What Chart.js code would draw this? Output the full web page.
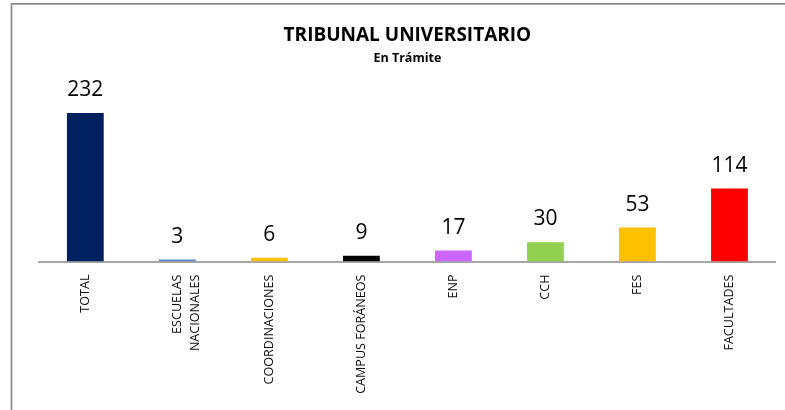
<!DOCTYPE html>
<html>
<head>
<meta charset="utf-8">
<script src="https://cdn.jsdelivr.net/npm/chart.js@4.4.1/dist/chart.umd.min.js"></script>
<style>
  html, body { margin: 0; padding: 0; background: #ffffff; }
  #wrap { width: 785px; height: 410px; position: relative; }
</style>
</head>
<body>
<div id="wrap"><canvas id="c" width="785" height="410"></canvas></div>
<script>
const titleText = 'TRIBUNAL UNIVERSITARIO';
const subtitleText = 'En Trámite';
const categories = ['TOTAL', ['ESCUELAS', 'NACIONALES'], 'COORDINACIONES', 'CAMPUS FORÁNEOS', 'ENP', 'CCH', 'FES', 'FACULTADES'];
const values = [232, 3, 6, 9, 17, 30, 53, 114];
const barColors = ['#002060', '#5b84c4', '#ffc000', '#000000', '#cc66ff', '#92d050', '#ffc000', '#ff0000'];

const frame = {
  id: 'frame',
  beforeDraw(chart) {
    const ctx = chart.ctx;
    ctx.save();
    ctx.strokeStyle = '#8c8c8c';
    ctx.lineWidth = 1.75;
    ctx.beginPath();
    ctx.moveTo(11.5, 410);
    ctx.lineTo(11.5, 3.8);
    ctx.lineTo(785, 3.8);
    ctx.stroke();
    ctx.restore();
  }
};

const valueLabels = {
  id: 'valueLabels',
  afterDatasetsDraw(chart) {
    const ctx = chart.ctx;
    ctx.save();
    ctx.font = '21px "Open Sans"';
    ctx.fillStyle = '#000000';
    ctx.textAlign = 'center';
    ctx.textBaseline = 'alphabetic';
    const meta = chart.getDatasetMeta(0);
    meta.data.forEach((el, i) => {
      ctx.fillText(String(chart.data.datasets[0].data[i]), el.x, el.y - 17);
    });
    ctx.restore();
  }
};

new Chart(document.getElementById('c'), {
  type: 'bar',
  data: {
    labels: categories,
    datasets: [{
      data: values,
      backgroundColor: barColors,
      borderWidth: 0,
      categoryPercentage: 1.0,
      barPercentage: 0.4
    }]
  },
  options: {
    responsive: false,
    animation: false,
    devicePixelRatio: 1,
    layout: { padding: { left: 39.3, right: 9.5, top: 0, bottom: 0 } },
    plugins: {
      legend: { display: false },
      tooltip: { enabled: false },
      title: {
        display: true,
        text: titleText,
        fullSize: false,
        color: '#000000',
        font: { family: 'Open Sans', size: 19, weight: 'bold', lineHeight: 1.2 },
        padding: { top: 24, bottom: 2 }
      },
      subtitle: {
        display: true,
        text: subtitleText,
        fullSize: false,
        color: '#000000',
        font: { family: 'Open Sans', size: 12.5, weight: 'bold', lineHeight: 1.2 },
        padding: { top: 2, bottom: 35.7 }
      }
    },
    scales: {
      x: {
        grid: { display: false },
        border: { display: true, color: '#a6a6a6', width: 2 },
        ticks: {
          autoSkip: false,
          minRotation: 90,
          maxRotation: 90,
          padding: 5,
          color: '#0d0d0d',
          font: { family: 'Open Sans', size: 12.6, lineHeight: 1.43 }
        },
        afterFit(scale) { scale.height = 148.5; }
      },
      y: {
        display: false,
        min: 0,
        max: 250
      }
    }
  },
  plugins: [frame, valueLabels]
});
</script>
</body>
</html>
